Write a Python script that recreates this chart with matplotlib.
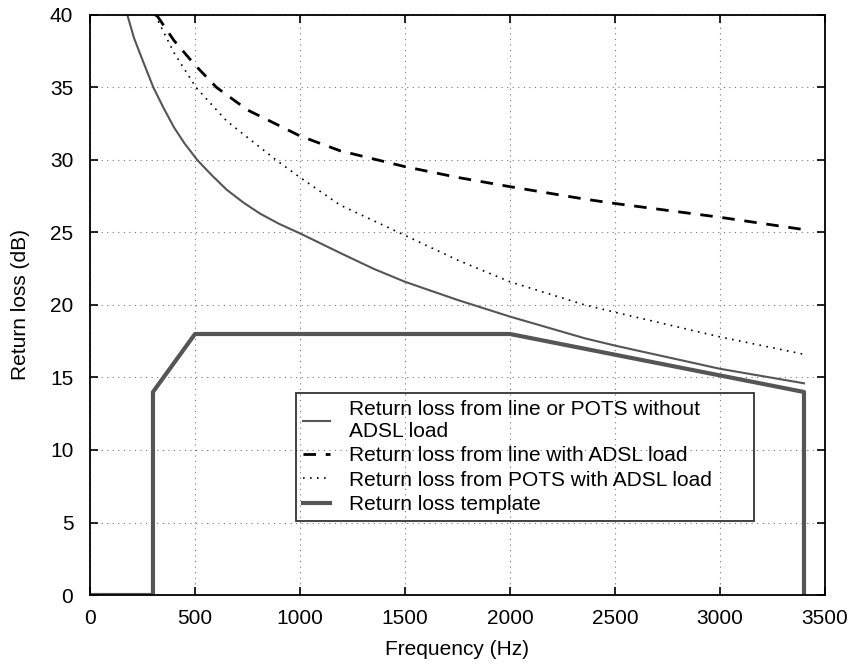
import numpy as np
import matplotlib.pyplot as plt
import matplotlib

matplotlib.rcParams['font.family'] = ['Liberation Sans', 'DejaVu Sans']
matplotlib.rcParams['font.size'] = 15

# line or POTS without ADSL load
f_solid = [178, 210, 250, 302, 350, 400, 450, 511, 580, 651, 730, 810, 900, 1000, 1190, 1350, 1500, 1750, 2000, 2357, 2500, 2750, 3000, 3400]
rl_solid = [40, 38.4, 36.9, 35.0, 33.6, 32.25, 31.15, 30.0, 28.95, 27.95, 27.07, 26.3, 25.6, 24.94, 23.6, 22.5, 21.6, 20.35, 19.2, 17.7, 17.2, 16.4, 15.6, 14.6]

# line with ADSL load
f_dash = [317, 400, 500, 603, 750, 1000, 1190, 1500, 1750, 2000, 2357, 2500, 3000, 3400]
rl_dash = [40, 38.24, 36.55, 35.0, 33.45, 31.66, 30.64, 29.54, 28.8, 28.16, 27.3, 27.0, 26.05, 25.2]

# POTS with ADSL load
f_dot = [310, 400, 505, 650, 886, 1000, 1190, 1500, 1750, 2000, 2357, 2500, 3000, 3400]
rl_dot = [40, 37.4, 35.0, 32.7, 30.0, 28.8, 26.9, 24.8, 23.1, 21.6, 20.0, 19.5, 17.8, 16.6]

# template
f_tmpl = [0, 300, 300, 500, 2000, 3400, 3400]
rl_tmpl = [0, 0, 14, 18, 18, 14, 0]

fig = plt.figure(figsize=(8.52, 6.66), dpi=100)
ax = fig.add_axes([0.1056, 0.1066, 0.8627, 0.8709])

ax.plot(f_solid, rl_solid, color='#555555', lw=1.5,
        label='Return loss from line or POTS without\nADSL load')
ax.plot(f_dash, rl_dash, color='black', lw=2.0, ls=(0, (4.5, 3.5)),
        label='Return loss from line with ADSL load')
ax.plot(f_dot, rl_dot, color='black', lw=1.2, ls=(0, (1, 3.2)),
        label='Return loss from POTS with ADSL load')
ax.plot(f_tmpl, rl_tmpl, color='#555555', lw=3.0, label='Return loss template')

ax.set_xlim(0, 3500)
ax.set_ylim(0, 40)
ax.set_xticks(np.arange(0, 3501, 500))
ax.set_yticks(np.arange(0, 41, 5))
ax.tick_params(direction='in', length=6, width=1.2, top=True, right=True)
ax.tick_params(axis='x', pad=10)
ax.tick_params(axis='y', pad=12)
ax.grid(True, ls=(0, (1, 4)), color='#777777', lw=0.8)
for s in ax.spines.values():
    s.set_linewidth(1.3)
ax.set_xlabel('Frequency (Hz)', labelpad=9)
ax.set_ylabel('Return loss (dB)', labelpad=14)

leg = ax.legend(loc='upper left', bbox_to_anchor=(0.2803, 0.3483, 0.623, 0.0),
                mode='expand', fancybox=False, edgecolor='black', facecolor='none',
                borderaxespad=0, handlelength=1.3, labelspacing=0.25,
                borderpad=0.35, handletextpad=0.9)
leg.get_frame().set_linewidth(1.3)

fig.savefig('out.png', dpi=100)
